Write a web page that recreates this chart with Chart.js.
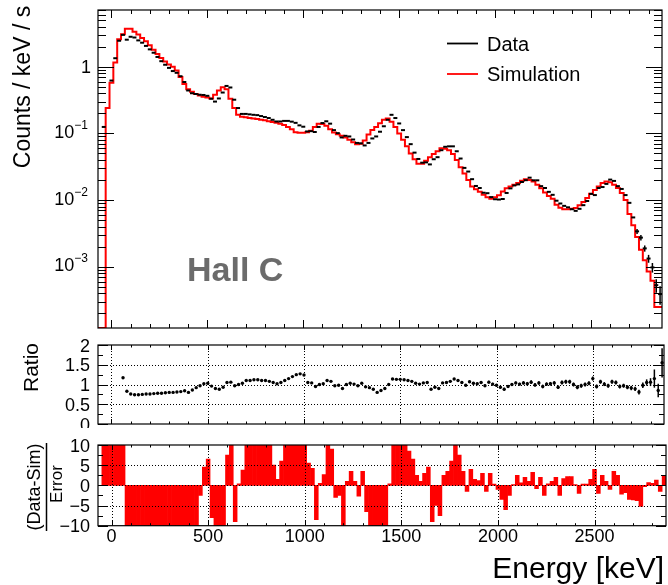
<!DOCTYPE html>
<html>
<head>
<meta charset="utf-8">
<script src="https://cdn.jsdelivr.net/npm/chart.js@4.4.1/dist/chart.umd.min.js"></script>
<style>
  html, body { margin: 0; padding: 0; background: #fff; }
  #wrap { position: relative; width: 668px; height: 585px; overflow: hidden; background: #fff; }
  #wrap canvas { position: absolute; left: 0; }
</style>
</head>
<body>
<div id="wrap">
  <canvas id="specChart" width="668" height="338" style="top:0px"></canvas>
  <canvas id="ratioChart" width="668" height="98" style="top:330px"></canvas>
  <canvas id="pullChart" width="668" height="155" style="top:430px"></canvas>
</div>
<script>
// energy bins, 20 keV wide, centres from -60 to 2860 keV
const binWidth = 20;
const energyBins = Array.from({length: 147}, (_, i) => -60 + i * binWidth);

// simulation, counts / keV / s
const simRate = [
  0, 0, 0, 0.24, 0.575, 1.16, 2.57, 3.06, 3.7, 3.7,                      // -60
  3.35, 3.05, 2.7, 2.4, 2.1, 1.8, 1.55, 1.35, 1.2, 1.08,                 // 140
  1.0, 0.88, 0.7, 0.55, 0.46, 0.42, 0.39, 0.37, 0.355, 0.345,            // 340
  0.335, 0.38, 0.44, 0.49, 0.46, 0.33, 0.24, 0.19, 0.178, 0.175,         // 540
  0.17, 0.168, 0.165, 0.16, 0.157, 0.152, 0.148, 0.144, 0.14, 0.134,     // 740
  0.125, 0.115, 0.104, 0.102, 0.102, 0.104, 0.11, 0.125, 0.14, 0.138,    // 940
  0.13, 0.115, 0.103, 0.097, 0.092, 0.087, 0.08, 0.074, 0.069, 0.07,     // 1140
  0.078, 0.096, 0.112, 0.125, 0.142, 0.16, 0.168, 0.15, 0.125, 0.1,      // 1340
  0.08, 0.064, 0.05, 0.041, 0.035, 0.035, 0.039, 0.044, 0.049, 0.054,    // 1540
  0.06, 0.059, 0.056, 0.049, 0.04, 0.031, 0.025, 0.02, 0.016, 0.0145,    // 1740
  0.0133, 0.012, 0.011, 0.0105, 0.011, 0.0118, 0.0135, 0.015, 0.016, 0.017,   // 1940
  0.018, 0.0195, 0.0205, 0.02, 0.019, 0.017, 0.015, 0.013, 0.0115, 0.0105,    // 2140
  0.0085, 0.0077, 0.0073, 0.0073, 0.0074, 0.0076, 0.0084, 0.0094, 0.0108, 0.0125, // 2340
  0.0142, 0.016, 0.018, 0.019, 0.0185, 0.017, 0.0152, 0.0128, 0.01, 0.0062,  // 2540
  0.0042, 0.0028, 0.0018, 0.00125, 0.00085, 0.00062, 0.00025                  // 2740
];

// measured data, counts / keV / s
const dataRate = [
  null, 0.125, null, 0.62, 1.34, 2.45, 3.0, 2.54, 2.81, 2.74,
  2.48, 2.29, 2.05, 1.82, 1.62, 1.40, 1.21, 1.07, 0.96, 0.86,
  0.81, 0.72, 0.59, 0.44, 0.40, 0.39, 0.38, 0.377, 0.366, 0.331,
  0.30, 0.334, 0.41, 0.515, 0.488, 0.32, 0.24, 0.196, 0.196, 0.193,
  0.19, 0.188, 0.182, 0.176, 0.17, 0.16, 0.151, 0.151, 0.154, 0.154,
  0.15, 0.144, 0.132, 0.126, 0.107, 0.108, 0.105, 0.125, 0.143, 0.152,
  0.14, 0.112, 0.101, 0.087, 0.092, 0.09, 0.081, 0.072, 0.071, 0.066,
  0.072, 0.084, 0.09, 0.106, 0.128, 0.16, 0.19, 0.17, 0.141, 0.112,
  0.088, 0.069, 0.0515, 0.0414, 0.0364, 0.0368, 0.0343, 0.041, 0.044, 0.056,
  0.063, 0.064, 0.064, 0.054, 0.042, 0.0304, 0.0268, 0.0206, 0.0163, 0.0152,
  0.0129, 0.0127, 0.0111, 0.0103, 0.0102, 0.0104, 0.0128, 0.015, 0.0166, 0.0172,
  0.0187, 0.0199, 0.0217, 0.0198, 0.0198, 0.0162, 0.0152, 0.0133, 0.012, 0.0098,
  0.0089, 0.0082, 0.0078, 0.0073, 0.0069, 0.0074, 0.0084, 0.0097, 0.0124, 0.0119,
  0.0152, 0.0157, 0.0175, 0.0203, 0.0194, 0.0162, 0.0147, 0.0119, 0.0091, 0.0055,
  0.0034, 0.00274, 0.00189, 0.00133, 0.00098, 0.00053, 0.00039
];
// errors of the last data bins (2740 .. 2860 keV)
const dataErrTail = [0.0003, 0.00025, 0.0002, 0.00018, 0.00016, 0.00012, 0.00012];

// data / simulation
const ratio = [
  null, null, null, null, null, null, 1.17, 0.83, 0.76, 0.74,
  0.74, 0.75, 0.76, 0.76, 0.77, 0.78, 0.78, 0.79, 0.8, 0.8,
  0.81, 0.82, 0.84, 0.8, 0.86, 0.92, 0.97, 1.02, 1.03, 0.96,
  0.9, 0.88, 0.93, 1.05, 1.06, 0.97, 1.0, 1.03, 1.1, 1.1,
  1.12, 1.12, 1.1, 1.1, 1.08, 1.05, 1.02, 1.05, 1.1, 1.15,
  1.2, 1.25, 1.27, 1.24, 1.05, 1.04, 0.95, 1.0, 1.02, 1.1,
  1.08, 0.97, 0.98, 0.9, 1.0, 1.03, 1.01, 0.97, 1.03, 0.94,
  0.92, 0.88, 0.8, 0.85, 0.9, 1.0, 1.14, 1.13, 1.13, 1.12,
  1.1, 1.08, 1.03, 1.01, 1.04, 1.05, 0.88, 0.93, 0.9, 1.04,
  1.05, 1.08, 1.14, 1.1, 1.05, 0.98, 1.07, 1.03, 1.02, 1.05,
  0.97, 1.06, 1.01, 0.98, 0.93, 0.88, 0.95, 1.0, 1.04, 1.01,
  1.04, 1.02, 1.06, 0.99, 1.04, 0.95, 1.01, 1.02, 1.04, 0.93,
  1.05, 1.07, 1.07, 1.0, 0.93, 0.97, 1.0, 1.03, 1.15, 0.95,
  1.07, 1.01, 0.97, 1.07, 1.05, 0.95, 0.97, 0.93, 0.91, 0.89,
  0.81, 0.98, 1.05, 1.06, 1.15, 0.85, 1.55
];
const ratioErr = [
  0, 0, 0, 0, 0, 0, 0.01, 0.01, 0.01, 0.01,
  0.01, 0.01, 0.01, 0.01, 0.01, 0.01, 0.01, 0.01, 0.01, 0.01,
  0.01, 0.01, 0.01, 0.01, 0.01, 0.01, 0.01, 0.01, 0.01, 0.01,
  0.01, 0.01, 0.01, 0.01, 0.01, 0.01, 0.01, 0.01, 0.01, 0.01,
  0.01, 0.01, 0.01, 0.01, 0.01, 0.01, 0.01, 0.01, 0.01, 0.01,
  0.01, 0.01, 0.01, 0.01, 0.01, 0.01, 0.01, 0.01, 0.01, 0.01,
  0.01, 0.01, 0.01, 0.01, 0.01, 0.01, 0.01, 0.01, 0.01, 0.01,
  0.01, 0.01, 0.01, 0.015, 0.015, 0.015, 0.015, 0.02, 0.02, 0.02,
  0.02, 0.02, 0.02, 0.02, 0.02, 0.02, 0.02, 0.02, 0.02, 0.025,
  0.025, 0.025, 0.025, 0.025, 0.03, 0.03, 0.03, 0.03, 0.03, 0.03,
  0.035, 0.035, 0.035, 0.035, 0.035, 0.035, 0.035, 0.035, 0.035, 0.035,
  0.045, 0.045, 0.045, 0.045, 0.045, 0.045, 0.045, 0.045, 0.045, 0.045,
  0.05, 0.05, 0.05, 0.05, 0.05, 0.05, 0.05, 0.05, 0.05, 0.05,
  0.05, 0.05, 0.05, 0.05, 0.05, 0.05, 0.05, 0.05, 0.055, 0.055,
  0.06, 0.07, 0.08, 0.1, 0.23, 0.17, 0.37
];

// (data - sim) / error, clipped at +-10 in the picture
const pull = [
  0, 10, 10, 10, 10, 10, 10, -10, -10, -10,
  -10, -10, -10, -10, -10, -10, -10, -10, -10, -10,
  -10, -10, -10, -10, -10, -10, -2.5, 4.5, 6.5, -8,
  -10, -10, -10, 7.5, 10, -9, 0.4, 3.8, 10, 10,
  10, 10, 10, 10, 10, 5, 1.5, 6, 10, 10,
  10, 10, 10, 10, 5.5, 4.2, -8.5, 0.5, 2.7, 10,
  9, -3, -2.5, -10, 1, 3.5, 1, -2.7, 3.5, -6.5,
  -10, -10, -10, -10, -10, 0.4, 10, 10, 10, 10,
  8.5, 6.5, 2.5, 1, 3, 4.5, -9, -5, -7.5, 2.5,
  3.5, 6, 10, 7.5, 3.5, -1.5, 4, 1.5, 1.2, 3,
  -1.5, 3, 0.3, -1, -3.5, -6, -2.5, 0.2, 2.5, 0.6,
  2, 1, 3.2, -0.8, 2, -2.5, 0.4, 1, 2, -2.5,
  1.7, 2.2, 2.2, 0.2, -2, 0.3, 0.3, 1.5, 4, -2,
  2.5, 1, -1, 3.5, 2.5, -2.2, -1.8, -3.5, -3.6, -3.8,
  -5.2, -0.3, 0.7, 0.5, 1.3, -1.5, 2.5
];

// axes
const X_MIN = -70, X_MAX = 2870;
const COUNT_MIN = 1.21e-4, COUNT_MAX = 7.08;
const energyTicks = [0, 500, 1000, 1500, 2000, 2500];
const countTicks = [1, 0.1, 0.01, 0.001];
const ratioTicks = [0, 0.5, 1, 1.5, 2];
const ratioMinor = [0.25, 0.75, 1.25, 1.75];
const pullTicks = [-10, -5, 0, 5, 10];
const pullMinor = [-7.5, -2.5, 2.5, 7.5];

const FONT = '"Liberation Sans", Arial, Helvetica, sans-serif';

function logMinor() {
  const out = [];
  for (let d = -4; d <= 0; d++) {
    for (let k = 2; k <= 9; k++) {
      const v = k * Math.pow(10, d);
      if (v > COUNT_MIN && v < COUNT_MAX) out.push(v);
    }
  }
  return out;
}

// ROOT style frame: box, inner ticks, dotted grid, tick labels
const rootPad = {
  id: 'rootPad',
  afterDatasetsDraw(chart, args, o) {
    const {ctx, chartArea: a} = chart;
    const xs = chart.scales.x, ys = chart.scales.y;
    ctx.save();
    ctx.strokeStyle = '#000';
    ctx.lineWidth = 1;
    ctx.setLineDash([1, 2]);
    (o.gridX || []).forEach(v => {
      const px = Math.round(xs.getPixelForValue(v)) + 0.5;
      ctx.beginPath(); ctx.moveTo(px, a.top); ctx.lineTo(px, a.bottom); ctx.stroke();
    });
    (o.gridY || []).forEach(v => {
      const py = Math.round(ys.getPixelForValue(v)) + 0.5;
      ctx.beginPath(); ctx.moveTo(a.left, py); ctx.lineTo(a.right, py); ctx.stroke();
    });
    ctx.setLineDash([]);

    ctx.beginPath();
    for (let v = 0; v <= X_MAX; v += 100) {
      const len = v % 500 === 0 ? o.xLen[0] : o.xLen[1];
      const px = Math.round(xs.getPixelForValue(v)) + 0.5;
      ctx.moveTo(px, a.bottom); ctx.lineTo(px, a.bottom - len);
      ctx.moveTo(px, a.top); ctx.lineTo(px, a.top + len);
    }
    const yTick = (v, len) => {
      const py = Math.round(ys.getPixelForValue(v)) + 0.5;
      ctx.moveTo(a.left, py); ctx.lineTo(a.left + len, py);
      ctx.moveTo(a.right, py); ctx.lineTo(a.right - len, py);
    };
    o.yMajor.forEach(v => yTick(v, o.yLen[0]));
    o.yMinor.forEach(v => yTick(v, o.yLen[1]));
    ctx.stroke();

    ctx.lineWidth = 1.2;
    ctx.strokeRect(a.left, a.top, a.right - a.left, a.bottom - a.top);

    ctx.fillStyle = '#000';
    ctx.font = '18px ' + FONT;
    if (o.yLabels) {
      ctx.textAlign = 'right';
      ctx.textBaseline = 'alphabetic';
      o.yLabels.forEach(v => {
        ctx.fillText(String(v).replace('-', '\u2212'), a.left - 8, ys.getPixelForValue(v) + 6.5);
      });
    }
    if (o.xLabels) {
      ctx.textAlign = 'center';
      ctx.textBaseline = 'alphabetic';
      o.xLabels.forEach(v => ctx.fillText(String(v), xs.getPixelForValue(v), a.bottom + 16));
    }
    ctx.restore();
  }
};

// vertical error bars from a dataset's errorBars list
const errorBars = {
  id: 'errorBars',
  afterDatasetsDraw(chart) {
    const {ctx, chartArea: a, scales: {x, y}} = chart;
    ctx.save();
    ctx.beginPath();
    ctx.rect(a.left, a.top, a.right - a.left, a.bottom - a.top);
    ctx.clip();
    ctx.strokeStyle = '#000';
    ctx.lineWidth = 1.5;
    chart.data.datasets.forEach(ds => {
      if (!ds.errorBars) return;
      ds.data.forEach((p, i) => {
        const e = ds.errorBars[i];
        if (p.y == null || !e) return;
        const px = x.getPixelForValue(p.x);
        const lo = Math.max(p.y - e, 1e-9);
        ctx.beginPath();
        ctx.moveTo(px, y.getPixelForValue(lo));
        ctx.lineTo(px, y.getPixelForValue(p.y + e));
        ctx.stroke();
      });
    });
    ctx.restore();
  }
};

function rotatedText(ctx, text, x, y, font) {
  ctx.save();
  ctx.translate(x, y);
  ctx.rotate(-Math.PI / 2);
  ctx.font = font;
  ctx.textAlign = 'center';
  ctx.textBaseline = 'alphabetic';
  ctx.fillText(text, 0, 0);
  ctx.restore();
}

const specText = {
  id: 'specText',
  afterDraw(chart) {
    const {ctx, chartArea: a, scales: {y}} = chart;
    ctx.save();
    ctx.fillStyle = '#000';
    ctx.textBaseline = 'alphabetic';
    countTicks.forEach(v => {
      const py = y.getPixelForValue(v);
      const exp = Math.round(Math.log10(v));
      if (exp === 0) {
        ctx.font = '18px ' + FONT;
        ctx.textAlign = 'right';
        ctx.fillText('1', a.left - 7, py + 6.5);
      } else {
        const sup = '\u2212' + Math.abs(exp);
        ctx.font = '12px ' + FONT;
        const w = ctx.measureText(sup).width;
        const right = a.left - 10;
        ctx.textAlign = 'left';
        ctx.fillText(sup, right - w, py - 4.5);
        ctx.font = '18px ' + FONT;
        ctx.textAlign = 'right';
        ctx.fillText('10', right - w, py + 4.5);
      }
    });
    rotatedText(ctx, 'Counts / keV / s', 30, 87, '23px ' + FONT);

    // legend
    const rows = [43.5, 74];
    chart.data.datasets.forEach((ds, i) => {
      ctx.strokeStyle = ds.legendColor;
      ctx.lineWidth = 1.8;
      ctx.beginPath();
      ctx.moveTo(447, rows[i]);
      ctx.lineTo(478, rows[i]);
      ctx.stroke();
      ctx.fillStyle = '#000';
      ctx.font = '20px ' + FONT;
      ctx.textAlign = 'left';
      ctx.fillText(ds.label, 487, rows[i] + 7);
    });

    ctx.fillStyle = '#6b6b6b';
    ctx.font = 'bold 34px ' + FONT;
    ctx.textAlign = 'left';
    ctx.fillText('Hall C', 187, 281);
    ctx.restore();
  }
};

const ratioText = {
  id: 'ratioText',
  afterDraw(chart) {
    const ctx = chart.ctx;
    ctx.save();
    ctx.fillStyle = '#000';
    rotatedText(ctx, 'Ratio', 37.5, 37.5, '21px ' + FONT);
    ctx.restore();
  }
};

const pullText = {
  id: 'pullText',
  afterDraw(chart) {
    const ctx = chart.ctx;
    ctx.save();
    ctx.fillStyle = '#000';
    rotatedText(ctx, '(Data-Sim)', 40, 57, '18px ' + FONT);
    rotatedText(ctx, 'Error', 62, 54, '17px ' + FONT);
    ctx.strokeStyle = '#000';
    ctx.lineWidth = 1.5;
    ctx.beginPath();
    ctx.moveTo(46.5, 13);
    ctx.lineTo(46.5, 101);
    ctx.stroke();
    ctx.font = '30px ' + FONT;
    ctx.textAlign = 'right';
    ctx.textBaseline = 'alphabetic';
    ctx.fillText('Energy [keV]', 664, 148);
    ctx.restore();
  }
};

const base = {
  responsive: false,
  animation: false,
  events: []
};
const xAxis = {type: 'linear', display: false, min: X_MIN, max: X_MAX};

// spectrum
const simSteps = energyBins.map((e, i) => ({x: e - binWidth / 2, y: Math.max(simRate[i], COUNT_MIN)}));
simSteps.push({x: energyBins[energyBins.length - 1] + binWidth / 2, y: Math.max(simRate[simRate.length - 1], COUNT_MIN)});
const dataPts = energyBins.map((e, i) => ({x: e, y: dataRate[i]}));
const dataErr = dataRate.map((v, i) => {
  const k = i - (dataRate.length - dataErrTail.length);
  return k >= 0 ? dataErrTail[k] : 0;
});

new Chart(document.getElementById('specChart'), {
  type: 'line',
  data: {
    datasets: [
      {
        label: 'Data', legendColor: '#000', data: dataPts, showLine: false,
        pointStyle: 'line', pointRadius: 2, pointBorderWidth: 2,
        pointBorderColor: '#000', pointBackgroundColor: '#000', errorBars: dataErr
      },
      {
        label: 'Simulation', legendColor: '#ff0000', data: simSteps, stepped: 'after',
        borderColor: '#ff0000', borderWidth: 2, pointRadius: 0, fill: false
      }
    ]
  },
  options: {
    ...base,
    layout: {padding: {left: 98, right: 2, top: 10, bottom: 10}},
    scales: {
      x: xAxis,
      y: {type: 'logarithmic', display: false, min: COUNT_MIN, max: COUNT_MAX}
    },
    plugins: {
      legend: {display: false},
      tooltip: {enabled: false},
      rootPad: {xLen: [8, 4], yLen: [16, 8], yMajor: countTicks, yMinor: logMinor()}
    }
  },
  plugins: [errorBars, rootPad, specText]
});

// ratio
new Chart(document.getElementById('ratioChart'), {
  type: 'scatter',
  data: {
    datasets: [{
      label: 'Ratio',
      data: energyBins.map((e, i) => ({x: e, y: ratio[i]})),
      pointRadius: 1.7, pointBorderWidth: 0, pointBackgroundColor: '#000',
      errorBars: ratioErr
    }]
  },
  options: {
    ...base,
    layout: {padding: {left: 98, right: 2, top: 15, bottom: 2}},
    scales: {
      x: xAxis,
      y: {type: 'linear', display: false, min: 0, max: 2}
    },
    plugins: {
      legend: {display: false},
      tooltip: {enabled: false},
      rootPad: {
        xLen: [5, 2.5], yLen: [10, 5], yMajor: ratioTicks, yMinor: ratioMinor,
        gridX: energyTicks, gridY: [0.5, 1, 1.5], yLabels: ratioTicks
      }
    }
  },
  plugins: [errorBars, rootPad, ratioText]
});

// pull
new Chart(document.getElementById('pullChart'), {
  type: 'bar',
  data: {
    datasets: [{
      label: '(Data-Sim)/Error',
      data: energyBins.map((e, i) => ({x: e, y: pull[i]})),
      backgroundColor: '#ff0000', borderWidth: 0,
      barPercentage: 1, categoryPercentage: 1
    }]
  },
  options: {
    ...base,
    layout: {padding: {left: 98, right: 2, top: 15, bottom: 59.3}},
    scales: {
      x: {...xAxis, offset: false},
      y: {type: 'linear', display: false, min: -10, max: 10}
    },
    plugins: {
      legend: {display: false},
      tooltip: {enabled: false},
      rootPad: {
        xLen: [5, 2.5], yLen: [10, 5], yMajor: pullTicks, yMinor: pullMinor,
        gridX: energyTicks, gridY: [-5, 0, 5], yLabels: pullTicks, xLabels: energyTicks
      }
    }
  },
  plugins: [rootPad, pullText]
});
</script>
</body>
</html>
